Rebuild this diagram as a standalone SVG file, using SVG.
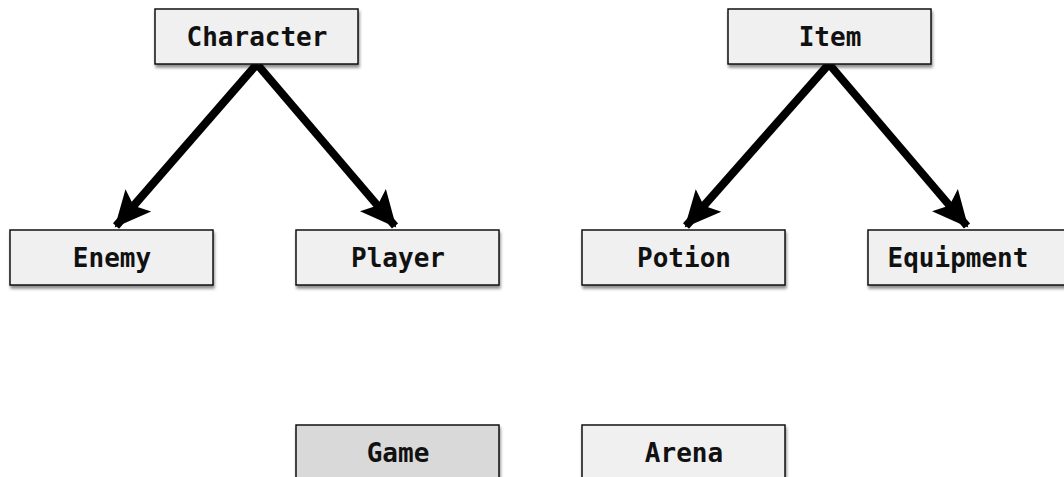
<svg xmlns="http://www.w3.org/2000/svg" width="1064" height="477" viewBox="0 0 1064 477">
  <defs>
    <filter id="shadow" x="-10%" y="-20%" width="120%" height="150%">
      <feGaussianBlur in="SourceAlpha" stdDeviation="1.5"/>
      <feOffset dx="1" dy="3" result="b"/>
      <feComponentTransfer><feFuncA type="linear" slope="0.45"/></feComponentTransfer>
      <feMerge><feMergeNode/><feMergeNode in="SourceGraphic"/></feMerge>
    </filter>
    <marker id="head" markerUnits="userSpaceOnUse" markerWidth="38" markerHeight="38" viewBox="0 0 38 38" refX="34" refY="19" orient="auto">
      <path d="M0,2 L36,19 L0,36 L7,19 Z" fill="#000"/>
    </marker>
  </defs>
  <style>
    .box { fill: #f0f0f0; stroke: #111; stroke-width: 1.5; filter: url(#shadow); }
    .box.main { fill: #d9d9d9; }
    .label { font-family: "DejaVu Sans Mono", "Liberation Mono", monospace; font-weight: bold; font-size: 26px; fill: #111; text-anchor: middle; }
    .edge { stroke: #000; stroke-width: 8; fill: none; marker-end: url(#head); }
  </style>
  <rect width="1064" height="477" fill="#fff"/>

  <g id="connectors">
    <line class="edge" x1="257" y1="64" x2="116" y2="226"/>
    <line class="edge" x1="257" y1="64" x2="395" y2="226"/>
    <line class="edge" x1="829" y1="64" x2="686" y2="226"/>
    <line class="edge" x1="829" y1="64" x2="967" y2="226"/>
  </g>

  <g id="character">
    <rect class="box" x="155" y="9" width="203" height="55"/>
    <text class="label" x="257" y="46">Character</text>
  </g>
  <g id="item">
    <rect class="box" x="728" y="9" width="203" height="55"/>
    <text class="label" x="830" y="46">Item</text>
  </g>
  <g id="enemy">
    <rect class="box" x="10" y="230" width="203" height="55"/>
    <text class="label" x="112" y="267">Enemy</text>
  </g>
  <g id="player">
    <rect class="box" x="296" y="230" width="203" height="55"/>
    <text class="label" x="398" y="267">Player</text>
  </g>
  <g id="potion">
    <rect class="box" x="582" y="230" width="203" height="55"/>
    <text class="label" x="684" y="267">Potion</text>
  </g>
  <g id="equipment">
    <rect class="box" x="868" y="230" width="203" height="55"/>
    <text class="label" x="958" y="267">Equipment</text>
  </g>
  <g id="game">
    <rect class="box main" x="296" y="425" width="203" height="55"/>
    <text class="label" x="398" y="462">Game</text>
  </g>
  <g id="arena">
    <rect class="box" x="582" y="425" width="203" height="55"/>
    <text class="label" x="684" y="462">Arena</text>
  </g>
</svg>
